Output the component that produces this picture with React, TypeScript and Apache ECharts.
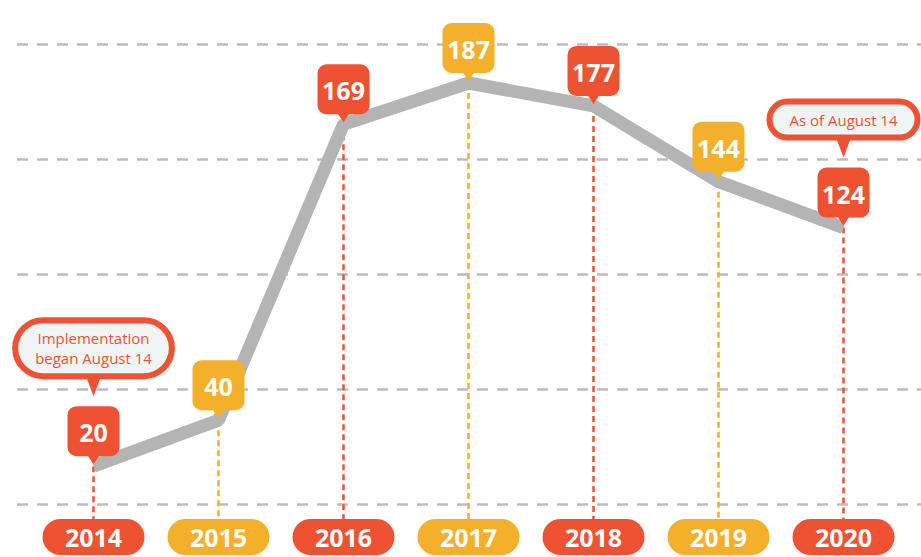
import React, { useEffect, useRef } from "react";
import * as echarts from "echarts";

const years = ["2014", "2015", "2016", "2017", "2018", "2019", "2020"];
const counts = [20, 40, 169, 187, 177, 144, 124];
const notes = ["Implementation\nbegan August 14", "", "", "", "", "", "As of August 14"];
const gridTicks = [0, 200, 50];

const RED = "#EF5232";
const ORANGE = "#F4AF2B";
const GRAY = "#B4B4B4";
const FONT = '"Open Sans", "Noto Sans", sans-serif';

const colorOf = (i: number) => (i % 2 === 0 ? RED : ORANGE);

export default function App() {
  const ref = useRef<HTMLDivElement>(null);
  useEffect(() => {
    if (!ref.current) return;
    const chart = echarts.init(ref.current, null, { renderer: "svg" });
    const pairs = counts.map((v, i) => [i, v]);
    const pill = (bg: string) => ({
      backgroundColor: bg,
      color: "#fff",
      fontFamily: FONT,
      fontWeight: "bold",
      fontSize: 25,
      width: 102,
      height: 36,
      lineHeight: 36,
      borderRadius: 18,
      align: "center",
    });
    const option: any = {
      animation: false,
      grid: [
        { left: 17, right: 0, top: 44, bottom: 53 },
        { left: 31, right: 15, top: 44, bottom: 53 },
      ],
      xAxis: [
        { type: "category", gridIndex: 0, data: years, show: false },
        {
          type: "category",
          gridIndex: 1,
          data: years,
          boundaryGap: true,
          axisLine: { show: false },
          axisTick: { show: false },
          axisLabel: {
            margin: 15,
            interval: 0,
            formatter: (v: string, i: number) => `{${i % 2 === 0 ? "r" : "o"}|${v}}`,
            rich: { r: pill(RED), o: pill(ORANGE) },
          },
        },
      ],
      yAxis: [
        {
          type: "value",
          gridIndex: 0,
          min: gridTicks[0],
          max: gridTicks[1],
          interval: gridTicks[2],
          axisLine: { show: false },
          axisTick: { show: false },
          axisLabel: { show: false },
          splitLine: { show: true, lineStyle: { color: "#BDBDBD", width: 2.5, type: [11, 9] } },
        },
        {
          type: "value",
          gridIndex: 1,
          min: 3.5,
          max: 204,
          axisLine: { show: false },
          axisTick: { show: false },
          axisLabel: { show: false },
          splitLine: { show: false },
        },
      ],
      series: [
        {
          type: "custom",
          xAxisIndex: 1,
          yAxisIndex: 1,
          z: 1,
          data: pairs,
          renderItem: (params: any, api: any) => {
            const idx = api.value(0);
            const p = api.coord([idx, api.value(1)]);
            const cs = params.coordSys;
            return {
              type: "line",
              shape: { x1: p[0], y1: p[1], x2: p[0], y2: cs.y + cs.height + 15 },
              style: { stroke: colorOf(idx), lineWidth: 2.5, lineDash: [6, 4] },
            };
          },
        },
        {
          type: "line",
          xAxisIndex: 1,
          yAxisIndex: 1,
          z: 2,
          data: counts,
          symbol: "none",
          lineStyle: { color: GRAY, width: 13 },
        },
        {
          type: "custom",
          xAxisIndex: 1,
          yAxisIndex: 1,
          z: 3,
          data: pairs,
          renderItem: (params: any, api: any) => {
            const idx = api.value(0);
            const val = api.value(1);
            const p = api.coord([idx, val]);
            const color = colorOf(idx);
            const tipY = p[1] - 2;
            const bw = 52, bh = 50, th = 8;
            const top = tipY - th - bh;
            const children: any[] = [
              {
                type: "rect",
                shape: { x: p[0] - bw / 2, y: top, width: bw, height: bh, r: 9 },
                style: { fill: color },
              },
              {
                type: "polygon",
                shape: { points: [[p[0] - 6, tipY - th - 1], [p[0] + 6, tipY - th - 1], [p[0], tipY]] },
                style: { fill: color },
              },
              {
                type: "text",
                style: {
                  text: String(val),
                  x: p[0],
                  y: top + bh / 2 + 1,
                  align: "center",
                  verticalAlign: "middle",
                  fill: "#fff",
                  fontFamily: FONT,
                  fontWeight: "bold",
                  fontSize: 25,
                },
              },
            ];
            const note = notes[idx];
            if (note) {
              const boxBottom = top - 30;
              children.push({
                type: "polygon",
                shape: { points: [[p[0] - 9, boxBottom - 4], [p[0] + 9, boxBottom - 4], [p[0], top - 10]] },
                style: { fill: RED },
              });
              children.push({
                type: "text",
                style: {
                  text: note,
                  x: p[0],
                  y: boxBottom - 3,
                  align: "center",
                  verticalAlign: "bottom",
                  fill: RED,
                  fontFamily: FONT,
                  fontSize: 15,
                  lineHeight: 20,
                  backgroundColor: "#F1F4F5",
                  borderColor: RED,
                  borderWidth: 6,
                  borderRadius: 30,
                  padding: [5, 17, 5, 17],
                },
              });
            }
            return { type: "group", children };
          },
        },
      ],
    };
    chart.setOption(option);
    return () => chart.dispose();
  }, []);
  return (
    <div
      ref={ref}
      style={{ position: "fixed", left: 0, top: 0, width: 921, height: 557, background: "#fff" }}
    />
  );
}
